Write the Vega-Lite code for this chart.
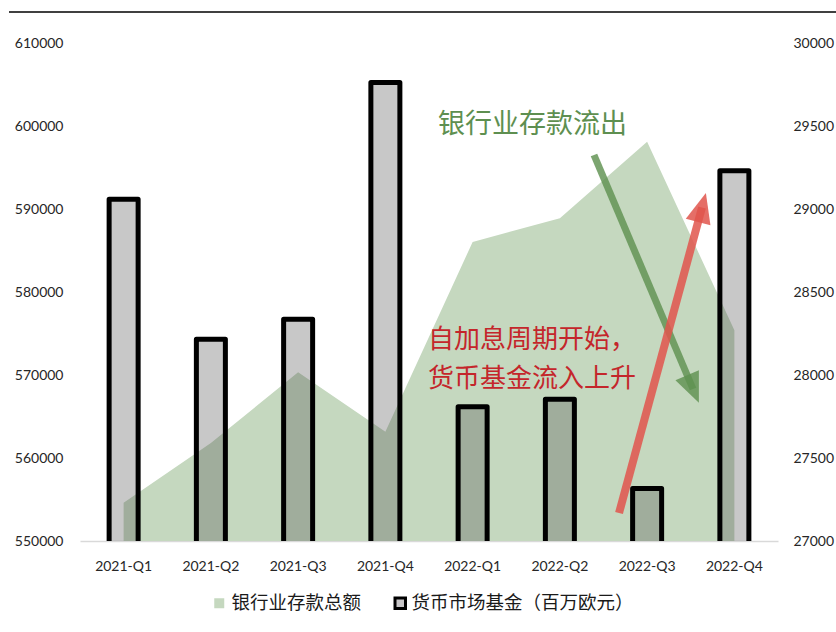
{
  "$schema": "https://vega.github.io/schema/vega-lite/v6.json",
  "width": 698,
  "height": 498,
  "autosize": "none",
  "padding": {"left": 80, "top": 43, "right": 58, "bottom": 91},
  "background": "#ffffff",
  "config": {"view": {"stroke": null}, "font": "Lato"},
  "datasets": {
    "quarters": [
      {"quarter": "2021-Q1", "deposits": 554600, "mmf": 29059},
      {"quarter": "2021-Q2", "deposits": 561800, "mmf": 28216},
      {"quarter": "2021-Q3", "deposits": 570330, "mmf": 28336},
      {"quarter": "2021-Q4", "deposits": 563170, "mmf": 29762},
      {"quarter": "2022-Q1", "deposits": 586020, "mmf": 27808},
      {"quarter": "2022-Q2", "deposits": 588900, "mmf": 27854},
      {"quarter": "2022-Q3", "deposits": 598100, "mmf": 27316},
      {"quarter": "2022-Q4", "deposits": 575400, "mmf": 29230}
    ],
    "arrows": [
      {"arrow": "green", "x0": 5.891, "y0": 596506, "x1": 7.026, "y1": 568313},
      {"arrow": "red", "x0": 6.178, "y0": 553373, "x1": 7.129, "y1": 590180}
    ],
    "notes": [
      {"note": "银行业存款流出", "group": "green", "x": 4.104, "y": 600120},
      {"note": "自加息周期开始，", "group": "red", "x": 3.989, "y": 574217},
      {"note": "货币基金流入上升", "group": "red", "x": 3.989, "y": 569518}
    ],
    "frame": [
      {"x0": -0.814, "x1": 8.665, "y": 613735}
    ]
  },
  "resolve": {"scale": {"x": "independent", "y": "independent"}},
  "layer": [
    {
      "data": {"name": "quarters"},
      "mark": {"type": "area", "interpolate": "linear", "clip": true},
      "encoding": {
        "x": {
          "field": "quarter", "type": "ordinal", "sort": null, "bandPosition": 0.5,
          "scale": {"type": "band", "paddingInner": 0, "paddingOuter": 0},
          "axis": {"title": null, "labelAngle": 0, "ticks": false, "domainColor": "#d9d9d9", "domainWidth": 1.5,
                   "labelFont": "Lato", "labelFontSize": 14, "labelColor": "#262626", "labelPadding": 18, "grid": false}
        },
        "y": {
          "field": "deposits", "type": "quantitative",
          "scale": {"domain": [550000, 610000], "nice": false, "zero": false},
          "axis": {"orient": "left", "title": null, "domain": false, "ticks": false, "grid": false,
                   "values": [550000, 560000, 570000, 580000, 590000, 600000, 610000],
                   "format": "d", "labelFont": "Lato", "labelFontSize": 14, "labelColor": "#262626", "labelPadding": 17}
        },
        "fill": {
          "datum": "银行业存款总额",
          "scale": {"domain": ["银行业存款总额"], "range": ["#c5d8bf"]},
          "legend": {
            "title": null, "orient": "none", "direction": "horizontal", "legendX": 130, "legendY": 551,
            "symbolType": "square", "symbolSize": 100, "symbolOpacity": 1, "labelFont": "Noto Sans CJK SC", "labelFontSize": 18.5,
            "labelColor": "#1a1a1a", "labelLimit": 400, "labelOffset": 3
          }
        }
      }
    },
    {
      "data": {"name": "quarters"},
      "mark": {"type": "bar", "width": 29, "fill": "#4d4d4d", "fillOpacity": 0.31, "strokeWidth": 0, "clip": true},
      "encoding": {
        "x": {
          "field": "quarter", "type": "ordinal", "sort": null,
          "scale": {"type": "band", "paddingInner": 0, "paddingOuter": 0},
          "axis": null
        },
        "y": {
          "field": "mmf", "type": "quantitative",
          "scale": {"domain": [27000, 30000], "nice": false, "zero": false},
          "axis": {"orient": "right", "title": null, "domain": false, "ticks": false, "grid": false,
                   "values": [27000, 27500, 28000, 28500, 29000, 29500, 30000],
                   "format": "d", "labelFont": "Lato", "labelFontSize": 14, "labelColor": "#262626", "labelPadding": 15}
        }
      }
    },
    {
      "data": {"name": "quarters"},
      "mark": {"type": "bar", "width": 29, "fill": "#c8c6c8", "fillOpacity": 0, "strokeWidth": 5, "strokeJoin": "round", "clip": true},
      "encoding": {
        "x": {
          "field": "quarter", "type": "ordinal", "sort": null,
          "scale": {"type": "band", "paddingInner": 0, "paddingOuter": 0},
          "axis": null
        },
        "y": {
          "field": "mmf", "type": "quantitative",
          "scale": {"domain": [27000, 30000], "nice": false, "zero": false},
          "axis": null
        },
        "stroke": {
          "datum": "货币市场基金（百万欧元）",
          "scale": {"domain": ["货币市场基金（百万欧元）"], "range": ["#000000"]},
          "legend": {
            "title": null, "orient": "none", "direction": "horizontal", "legendX": 311, "legendY": 551,
            "symbolType": "square", "symbolSize": 110, "symbolStrokeWidth": 3, "symbolFillColor": "#c8c6c8", "symbolOpacity": 1,
            "labelFont": "Noto Sans CJK SC", "labelFontSize": 18.5,
            "labelColor": "#1a1a1a", "labelLimit": 400, "labelOffset": 2
          }
        }
      }
    },
    {
      "data": {"name": "arrows"},
      "transform": [{"filter": "datum.arrow === 'green'"}],
      "mark": {"type": "rule", "color": "#5f9150", "strokeWidth": 7, "opacity": 0.82, "strokeCap": "butt"},
      "encoding": {
        "x": {"field": "x0", "type": "quantitative", "scale": {"domain": [0, 8], "nice": false, "zero": false}, "axis": null},
        "x2": {"field": "x1"},
        "y": {"field": "y0", "type": "quantitative", "scale": {"domain": [550000, 610000], "nice": false, "zero": false}, "axis": null},
        "y2": {"field": "y1"}
      }
    },
    {
      "data": {"name": "arrows"},
      "transform": [{"filter": "datum.arrow === 'green'"}],
      "mark": {"type": "point", "filled": true, "shape": "M0,-1L0.85,1L-0.85,1Z", "size": 900, "angle": 157, "color": "#5f9150", "opacity": 0.82},
      "encoding": {
        "x": {"field": "x1", "type": "quantitative", "scale": {"domain": [0, 8], "nice": false, "zero": false}, "axis": null},
        "y": {"field": "y1", "type": "quantitative", "scale": {"domain": [550000, 610000], "nice": false, "zero": false}, "axis": null}
      }
    },
    {
      "data": {"name": "arrows"},
      "transform": [{"filter": "datum.arrow === 'red'"}],
      "mark": {"type": "rule", "color": "#e0554c", "strokeWidth": 8, "opacity": 0.85, "strokeCap": "butt"},
      "encoding": {
        "x": {"field": "x0", "type": "quantitative", "scale": {"domain": [0, 8], "nice": false, "zero": false}, "axis": null},
        "x2": {"field": "x1"},
        "y": {"field": "y0", "type": "quantitative", "scale": {"domain": [550000, 610000], "nice": false, "zero": false}, "axis": null},
        "y2": {"field": "y1"}
      }
    },
    {
      "data": {"name": "arrows"},
      "transform": [{"filter": "datum.arrow === 'red'"}],
      "mark": {"type": "point", "filled": true, "shape": "M0,-1L0.85,1L-0.85,1Z", "size": 900, "angle": 15, "color": "#e0554c", "opacity": 0.85},
      "encoding": {
        "x": {"field": "x1", "type": "quantitative", "scale": {"domain": [0, 8], "nice": false, "zero": false}, "axis": null},
        "y": {"field": "y1", "type": "quantitative", "scale": {"domain": [550000, 610000], "nice": false, "zero": false}, "axis": null}
      }
    },
    {
      "data": {"name": "notes"},
      "transform": [{"filter": "datum.group === 'green'"}],
      "mark": {"type": "text", "align": "left", "baseline": "middle", "font": "Noto Sans CJK SC", "fontSize": 27, "color": "#5e8f50"},
      "encoding": {
        "x": {"field": "x", "type": "quantitative", "scale": {"domain": [0, 8], "nice": false, "zero": false}, "axis": null},
        "y": {"field": "y", "type": "quantitative", "scale": {"domain": [550000, 610000], "nice": false, "zero": false}, "axis": null},
        "text": {"field": "note"}
      }
    },
    {
      "data": {"name": "notes"},
      "transform": [{"filter": "datum.group === 'red'"}],
      "mark": {"type": "text", "align": "left", "baseline": "middle", "font": "Noto Sans CJK SC", "fontSize": 26, "color": "#c4262b"},
      "encoding": {
        "x": {"field": "x", "type": "quantitative", "scale": {"domain": [0, 8], "nice": false, "zero": false}, "axis": null},
        "y": {"field": "y", "type": "quantitative", "scale": {"domain": [550000, 610000], "nice": false, "zero": false}, "axis": null},
        "text": {"field": "note"}
      }
    },
    {
      "data": {"name": "frame"},
      "mark": {"type": "rule", "color": "#000000", "strokeWidth": 1.5},
      "encoding": {
        "x": {"field": "x0", "type": "quantitative", "scale": {"domain": [0, 8], "nice": false, "zero": false}, "axis": null},
        "x2": {"field": "x1"},
        "y": {"field": "y", "type": "quantitative", "scale": {"domain": [550000, 610000], "nice": false, "zero": false}, "axis": null}
      }
    }
  ]
}
